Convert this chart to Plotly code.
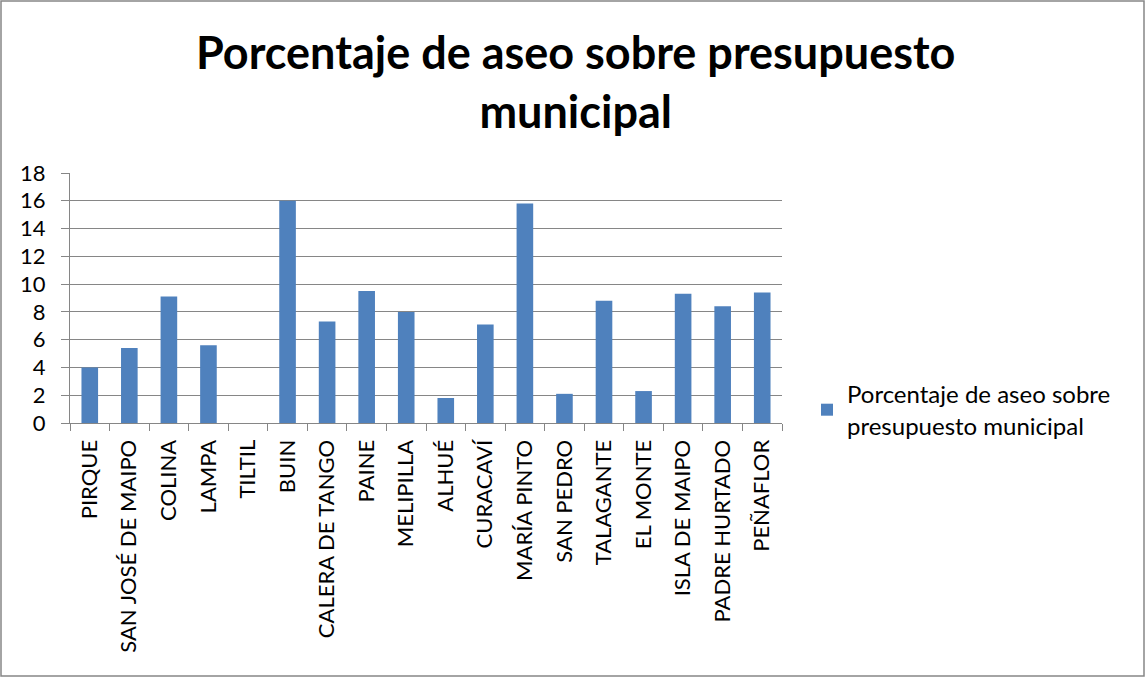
import plotly.graph_objects as go

categories = ["PIRQUE", "SAN JOSÉ DE MAIPO", "COLINA", "LAMPA", "TILTIL", "BUIN",
              "CALERA DE TANGO", "PAINE", "MELIPILLA", "ALHUÉ", "CURACAVÍ",
              "MARÍA PINTO", "SAN PEDRO", "TALAGANTE", "EL MONTE", "ISLA DE MAIPO",
              "PADRE HURTADO", "PEÑAFLOR"]
values = [4.0, 5.4, 9.1, 5.6, 0, 16.0, 7.3, 9.5, 8.0, 1.8, 7.1, 15.8, 2.1, 8.8,
          2.3, 9.3, 8.4, 9.4]
y_ticks = [0, 2, 4, 6, 8, 10, 12, 14, 16, 18]
series_name = "Porcentaje de aseo sobre<br>presupuesto municipal"
title_text = "Porcentaje de aseo sobre presupuesto<br>municipal"

FONT = "Lato"

fig = go.Figure()
fig.add_trace(go.Bar(
    x=categories, y=values, name=series_name,
    marker=dict(color="#4F81BD", line=dict(color="#4F81BD", width=0)),
    showlegend=True,
))

L, R, T, B = 70, 364, 173, 255
W, H = 1146, 678
pw, ph = W - L - R, H - T - B

fig.update_layout(
    width=W, height=H,
    margin=dict(l=L, r=R, t=T, b=B),
    paper_bgcolor="white", plot_bgcolor="white",
    bargap=0.58,
    font=dict(family=FONT, color="black"),
    legend=dict(x=(807 - L) / pw, y=(T + ph - 410) / ph, xanchor="left", yanchor="middle",
                font=dict(family=FONT, size=24, color="black"),
                bgcolor="rgba(0,0,0,0)", itemwidth=30),
    xaxis=dict(
        type="category", tickangle=-90,
        tickfont=dict(family=FONT, size=22, color="black"),
        showline=True, linecolor="#868686", linewidth=1,
        ticks="outside", ticklen=7, tickcolor="#868686", tickson="boundaries",
        showgrid=False, ticklabelstandoff=7,
    ),
    yaxis=dict(
        range=[0, 18], tickvals=y_ticks,
        tickfont=dict(family=FONT, size=22, color="black"),
        showline=True, linecolor="#868686", linewidth=1,
        ticks="outside", ticklen=8, tickcolor="#868686",
        showgrid=True, gridcolor="#868686", gridwidth=1,
        zeroline=False, ticklabelstandoff=11,
    ),
)

# chart title as annotation
fig.add_annotation(text="<b>" + title_text + "</b>", xref="paper", yref="paper",
                   x=(575 - L) / pw, y=(T + ph - 82) / ph,
                   xanchor="center", yanchor="middle", showarrow=False,
                   font=dict(family=FONT, size=45, color="black"))

# outer chart border
fig.add_shape(type="rect", xref="paper", yref="paper",
              x0=(1 - L) / pw, x1=(W - 2 - L) / pw,
              y0=-(H - 2 - (T + ph)) / ph, y1=(T + ph - 1) / ph,
              line=dict(color="#868686", width=1.5), fillcolor="rgba(0,0,0,0)",
              layer="below")

fig.write_html("out.html", config={"displayModeBar": False},
               post_script="document.body.style.margin='0';document.body.style.overflow='hidden';")
